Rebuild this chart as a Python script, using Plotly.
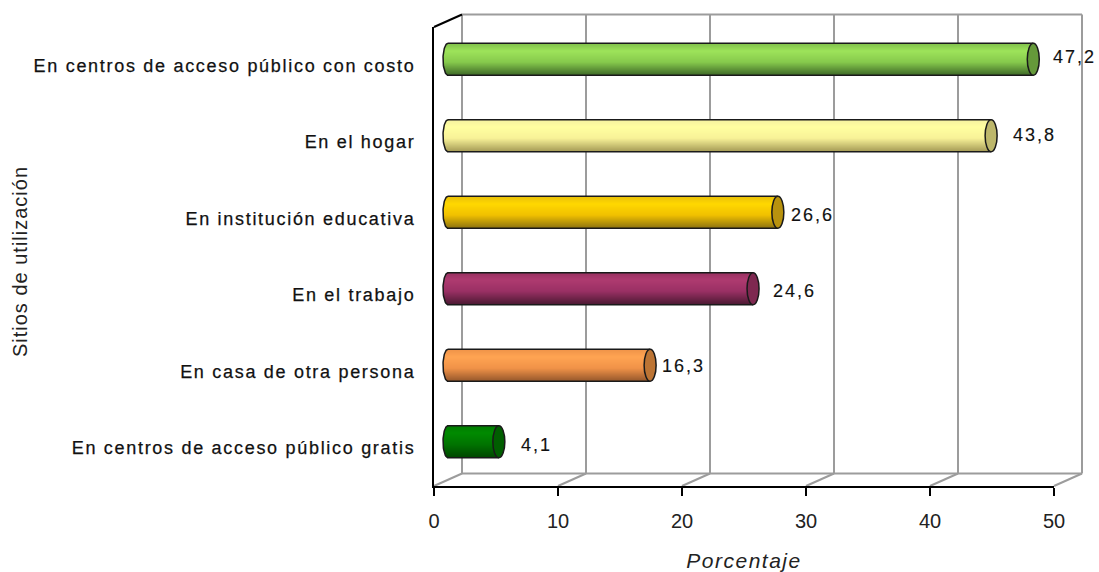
import math
import plotly.graph_objects as go

categories = ["En centros de acceso público con costo", "En el hogar", "En institución educativa",
              "En el trabajo", "En casa de otra persona", "En centros de acceso público gratis"]
values = [47.2, 43.8, 26.6, 24.6, 16.3, 4.1]
labels = ["47,2", "43,8", "26,6", "24,6", "16,3", "4,1"]
x_ticks = [0, 10, 20, 30, 40, 50]

shades = [
    ["#7FBE4A", "#9DE35A", "#86C94C", "#3F6A28"],
    ["#F4F0A0", "#FFFFA0", "#F8F298", "#A89E58"],
    ["#E8BE08", "#FFD800", "#F0C000", "#8E7410"],
    ["#96305F", "#AE3A70", "#9A3064", "#4E1A34"],
    ["#EE9248", "#FFA452", "#F09248", "#96582C"],
    ["#007A00", "#008A00", "#007400", "#004800"],
]
cap_colors = ["#65993A", "#BDB76B", "#B8920E", "#7E2850", "#BC7434", "#005E00"]
stops = [0.0, 0.25, 0.6, 1.0]

W, H = 1099, 572
L, R, T, B = 434, 1054, 27, 486
px_x = (R - L) / 50
px_y = (B - T) / 6
dx = 28 / px_x
dy = 12.5 / px_y
bar_dx = 14 / px_x
bar_dy = 6 / px_y
half = 16 / px_y
rx = 5 / px_x
rx_cap = 6 / px_x
N = 32
idx = list(range(len(values)))


def hex_rgb(c):
    return tuple(int(c[i:i + 2], 16) for i in (1, 3, 5))


def shade(colors, t):
    for k in range(3):
        if t <= stops[k + 1]:
            f = (t - stops[k]) / (stops[k + 1] - stops[k])
            a, b = hex_rgb(colors[k]), hex_rgb(colors[k + 1])
            return "rgb(%d,%d,%d)" % tuple(round(a[j] + (b[j] - a[j]) * f) for j in range(3))
    return colors[-1]


def px(v):
    return v / 50


def py(c):
    return 1 - (c + 0.5) / 6


fig = go.Figure()
for n in range(N):
    t = (n + 0.5) / N
    ext = rx * math.sqrt(max(0, 1 - (2 * t - 1) ** 2))
    fig.add_trace(go.Bar(
        y=idx,
        x=[v + ext for v in values],
        base=[bar_dx - ext] * len(values),
        orientation="h",
        width=2 * half / N * 1.15,
        offset=-bar_dy - half + 2 * half * n / N,
        marker=dict(color=[shade(s, t) for s in shades], line=dict(width=0)),
        hoverinfo="skip",
        showlegend=False,
    ))

ox, oy = [], []
for i, v in enumerate(values):
    c = i - bar_dy
    for a in range(0, 41):
        th = math.pi / 2 + math.pi * a / 40
        ox.append(bar_dx + rx * math.cos(th))
        oy.append(c - half * math.sin(th))
    ox.append(bar_dx + v)
    oy.append(c + half)
    ox.append(None)
    oy.append(None)
    ox.extend([bar_dx, bar_dx + v])
    oy.extend([c - half, c - half])
    ox.append(None)
    oy.append(None)
fig.add_trace(go.Scatter(x=ox, y=oy, mode="lines", line=dict(color="#1a1a1a", width=1.5),
                         hoverinfo="skip", showlegend=False))

shapes = []
GRID = dict(color="#9C9C9C", width=2)
BLACK = dict(color="#000000", width=2)
top, bot = -0.5, 5.5


def seg(x0, y0, x1, y1, line, layer="below"):
    shapes.append(dict(type="line", xref="paper", yref="paper", x0=px(x0), x1=px(x1), y0=py(y0), y1=py(y1),
                       line=line, layer=layer))


for tk in x_ticks[1:]:
    seg(tk + dx, top - dy, tk + dx, bot - dy, GRID)
    seg(tk, bot, tk + dx, bot - dy, GRID)
seg(dx, top - dy, dx, bot - dy, GRID)
seg(dx, top - dy, 50 + dx, top - dy, GRID)
seg(dx, bot - dy, 50 + dx, bot - dy, GRID)
seg(0, bot, dx, bot - dy, GRID)
seg(0, top, dx, top - dy, BLACK, "above")
for i, v in enumerate(values):
    c = i - bar_dy
    shapes.append(dict(type="circle", xref="x", yref="y",
                       x0=bar_dx + v - rx_cap, x1=bar_dx + v + rx_cap, y0=c - half, y1=c + half,
                       fillcolor=cap_colors[i], line=dict(color="#1a1a1a", width=1.5)))

label_gap = [13, 15, 6, 13, 5, 14]
label_rise = [2, 1, -3, -2, -1, -3]
annotations = []
for i, v in enumerate(values):
    annotations.append(dict(x=bar_dx + v + rx_cap, y=i - bar_dy, xref="x", yref="y", text=labels[i],
                            showarrow=False, xanchor="left", yanchor="middle", xshift=label_gap[i] + 3,
                            yshift=label_rise[i], font=dict(family="Liberation Sans", size=18, color="#111111")))

fig.update_layout(
    width=W, height=H, autosize=False,
    margin=dict(l=L, r=W - R, t=T, b=H - B, pad=0, autoexpand=False),
    paper_bgcolor="white", plot_bgcolor="white",
    barmode="overlay", bargap=0,
    shapes=shapes, annotations=annotations,
    xaxis=dict(range=[0, 50], tickvals=x_ticks, ticks="outside", ticklen=8, tickwidth=1.5, tickcolor="#000",
               ticklabelstandoff=8,
               showgrid=False, zeroline=False, showline=True, linecolor="#000", linewidth=2, automargin=False,
               tickfont=dict(family="Liberation Sans", size=20, color="#222222"),
               title=dict(text="<i>Porcentaje</i>", font=dict(family="Liberation Sans", size=21, color="#222222"),
                          standoff=24)),
    yaxis=dict(range=[5.5, -0.5], tickvals=idx, ticktext=categories, ticks="", ticklabelstandoff=13,
               showgrid=False, zeroline=False, showline=True, linecolor="#000", linewidth=2, automargin=False,
               tickfont=dict(family="Liberation Sans", size=18, color="#111111"),
               title=dict(text="Sitios de utilización", font=dict(family="Liberation Sans", size=20, color="#222222"),
                          standoff=65)),
)
css = (".ytick text{letter-spacing:1.7px;stroke:#111;stroke-width:.25px}"
       ".annotation-text{letter-spacing:2px;stroke:#111;stroke-width:.15px}"
       ".g-xtitle text{letter-spacing:1.5px}"
       ".g-ytitle text{letter-spacing:1px}"
       ".g-ytitle{transform:translateY(5px)}")
post = ("document.body.style.margin='0';document.body.style.overflow='hidden';"
        "var s=document.createElement('style');s.textContent=%r;document.head.appendChild(s);" % css)
fig.write_html("out.html", post_script=post, config=dict(displayModeBar=False))
